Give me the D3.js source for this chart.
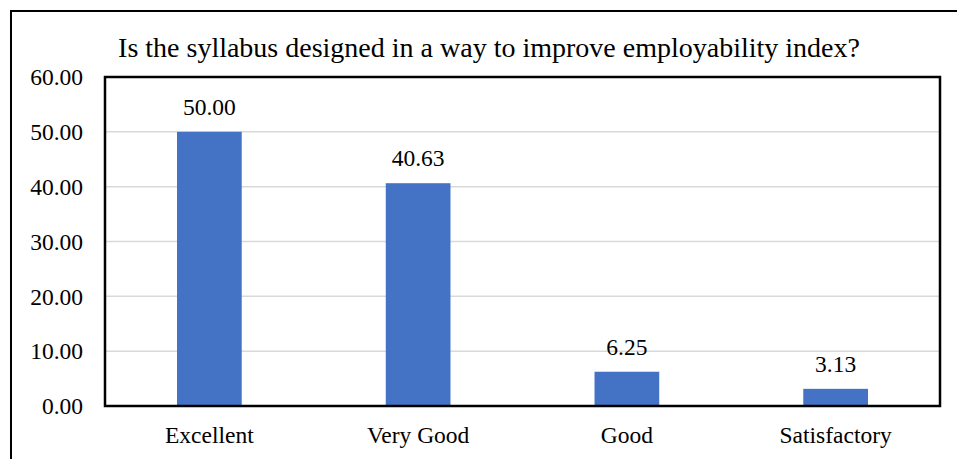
<!DOCTYPE html>
<html><head><meta charset="utf-8">
<script src="https://cdn.jsdelivr.net/npm/d3@7"></script>
<style>html,body{margin:0;padding:0;background:#fff;}svg{display:block;}</style>
</head><body>
<script>
const categories = ["Excellent", "Very Good", "Good", "Satisfactory"];
const values = [50.00, 40.63, 6.25, 3.13];
const yTicks = [0, 10, 20, 30, 40, 50, 60];
const title = "Is the syllabus designed in a way to improve employability index?";

const W = 957, H = 459;
const m = {left: 105, right: 17, top: 77, bottom: 53};
const svg = d3.select("body").append("svg").attr("width", W).attr("height", H);
const font = "'Liberation Serif', 'Times New Roman', serif";

svg.append("rect").attr("x", 11).attr("y", 11).attr("width", 980).attr("height", 500)
  .attr("fill", "none").attr("stroke", "#000").attr("stroke-width", 2);

const x = d3.scaleBand().domain(categories).range([m.left, W - m.right]).paddingInner(0.69).paddingOuter(0.345);
const y = d3.scaleLinear().domain([0, 60]).range([H - m.bottom, m.top]);

svg.append("g").selectAll("line").data(yTicks.slice(1, -1)).join("line")
  .attr("x1", m.left).attr("x2", W - m.right)
  .attr("y1", d => y(d)).attr("y2", d => y(d))
  .attr("stroke", "#d9d9d9").attr("stroke-width", 1.5);

svg.append("g").selectAll("rect").data(values).join("rect")
  .attr("x", (d, i) => x(categories[i])).attr("width", x.bandwidth())
  .attr("y", d => y(d)).attr("height", d => y(0) - y(d))
  .attr("fill", "#4472C4");

svg.append("rect").attr("x", m.left).attr("y", m.top)
  .attr("width", W - m.right - m.left).attr("height", H - m.bottom - m.top)
  .attr("fill", "none").attr("stroke", "#000").attr("stroke-width", 2.5);

svg.append("g").selectAll("text").data(yTicks).join("text")
  .attr("x", 83).attr("y", d => y(d)).attr("dy", "0.35em")
  .attr("text-anchor", "end").attr("font-family", font).attr("font-size", 23.5)
  .text(d => d.toFixed(2));

svg.append("g").selectAll("text").data(values).join("text")
  .attr("x", (d, i) => x(categories[i]) + x.bandwidth() / 2).attr("y", d => y(d) - 17)
  .attr("text-anchor", "middle").attr("font-family", font).attr("font-size", 23.5)
  .text(d => d.toFixed(2));

svg.append("g").selectAll("text").data(categories).join("text")
  .attr("x", d => x(d) + x.bandwidth() / 2).attr("y", 443)
  .attr("text-anchor", "middle").attr("font-family", font).attr("font-size", 23.5)
  .text(d => d);

svg.append("text").attr("x", 489).attr("y", 57).attr("text-anchor", "middle")
  .attr("font-family", font).attr("font-size", 28).text(title);
</script>
</body></html>
